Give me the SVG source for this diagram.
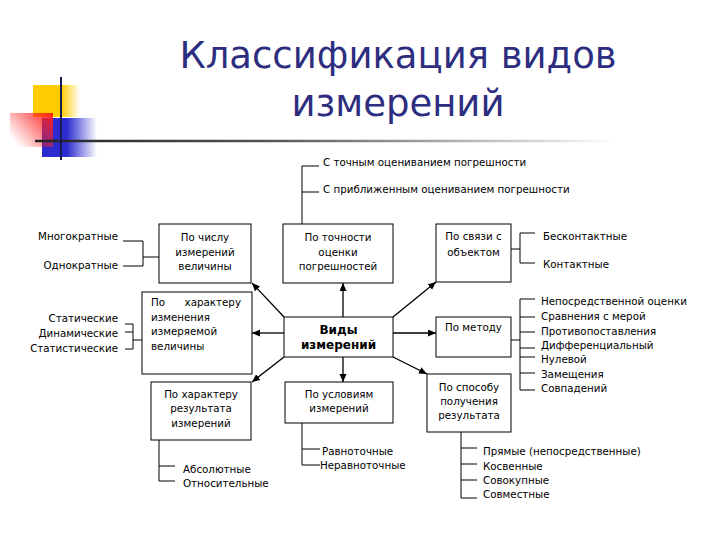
<svg xmlns="http://www.w3.org/2000/svg" width="720" height="540" viewBox="0 0 720 540">
<defs>
<linearGradient id="gY" x1="0" y1="0" x2="1" y2="0">
<stop offset="0" stop-color="#FFCC00"/><stop offset="0.6" stop-color="#FFCC00"/><stop offset="1" stop-color="#FFCC00" stop-opacity="0"/>
</linearGradient>
<linearGradient id="gR" x1="1" y1="0" x2="0" y2="0.7">
<stop offset="0" stop-color="#FF2020"/><stop offset="1" stop-color="#FF2020" stop-opacity="0"/>
</linearGradient>
<linearGradient id="gB" x1="0" y1="0" x2="1" y2="0">
<stop offset="0" stop-color="#2B2BD0"/><stop offset="0.45" stop-color="#2B2BD0"/><stop offset="1" stop-color="#2B2BD0" stop-opacity="0"/>
</linearGradient>
<linearGradient id="gL" x1="35" y1="0" x2="620" y2="0" gradientUnits="userSpaceOnUse">
<stop offset="0" stop-color="#222222"/><stop offset="0.4" stop-color="#555555"/><stop offset="1" stop-color="#555555" stop-opacity="0"/>
</linearGradient>
<marker id="arr" markerUnits="userSpaceOnUse" markerWidth="9" markerHeight="8" refX="8" refY="3.5" orient="auto">
<path d="M0,0 L8,3.5 L0,7 z" fill="#000"/>
</marker>
</defs>
<style>
.t{font-family:"DejaVu Sans",Verdana,sans-serif;font-size:10.3px;fill:#000}
.m{text-anchor:middle}
.e{text-anchor:end}
.b{font-weight:bold;font-size:12px}
.box{fill:#fff;stroke:#000;stroke-width:1}
.ln{stroke:#000;stroke-width:1;fill:none}
.ar{stroke:#000;stroke-width:1.3;fill:none;marker-end:url(#arr)}
.ttl{font-family:"DejaVu Sans",Verdana,sans-serif;font-size:37px;fill:#2E2E80;text-anchor:middle}
</style>
<rect width="720" height="540" fill="#fff"/>
<g id="logo">
<rect x="33" y="85" width="47" height="32" fill="url(#gY)"/>
<rect x="42" y="118" width="55" height="39" fill="url(#gB)"/>
<rect x="10" y="113" width="43" height="34" fill="url(#gR)"/>
<line x1="35" y1="141" x2="620" y2="141" stroke="url(#gL)" stroke-width="2.5"/>
<line x1="61" y1="77" x2="61" y2="160" stroke="#1A1A50" stroke-width="2"/>
</g>
<g id="title">
<text class="ttl" x="398" y="68">Классификация видов</text>
<text class="ttl" x="398" y="116">измерений</text>
</g>
<g id="connectors">
<line class="ar" x1="284" y1="317" x2="252" y2="283"/>
<line class="ar" x1="343" y1="317" x2="343" y2="283"/>
<line class="ar" x1="393" y1="317" x2="436" y2="282"/>
<line class="ar" x1="284" y1="333" x2="252" y2="333"/>
<line class="ar" x1="393" y1="333" x2="436" y2="333"/>
<line class="ar" x1="284" y1="357" x2="252" y2="382"/>
<line class="ar" x1="343" y1="357" x2="343" y2="382"/>
<line class="ar" x1="393" y1="357" x2="427" y2="374"/>
<path class="ln" d="M302,224 V166 H319 M302,192 H319"/>
<path class="ln" d="M511,249 H520 M535,233 H520 V263 H535"/>
<path class="ln" d="M511,340 H520 M535,299 H520 V390 H535 M520,317 H535 M520,332 H535 M520,348 H535 M520,357 H535 M520,373 H535"/>
<path class="ln" d="M461,432 V498 H477 M461,448 H477 M461,464 H477 M461,480 H477"/>
<path class="ln" d="M302,423 V465 H320 M302,449 H320"/>
<path class="ln" d="M159,440 V481 H175 M159,466 H175"/>
<path class="ln" d="M159,257 H143 M123,241 H143 V266 H123"/>
<path class="ln" d="M142,340 H133 M125,324 H133 V349 H125 M125,332 H133"/>
</g>
<g id="n-center">
<rect class="box" x="284" y="317" width="109" height="40"/>
<text class="t m b" x="338.5" y="334">Виды</text>
<text class="t m b" x="338.5" y="349">измерений</text>
</g>
<g id="n-chislo">
<rect class="box" x="159" y="224" width="92" height="59"/>
<text class="t m" x="205" y="241">По числу</text>
<text class="t m" x="205" y="255.5">измерений</text>
<text class="t m" x="205" y="270">величины</text>
</g>
<g id="n-tochnost">
<rect class="box" x="283" y="224" width="110" height="59"/>
<text class="t m" x="338" y="241">По точности</text>
<text class="t m" x="338" y="255.5">оценки</text>
<text class="t m" x="338" y="270">погрешностей</text>
</g>
<g id="n-svyaz">
<rect class="box" x="436" y="224" width="75" height="58"/>
<text class="t m" x="473.5" y="240">По связи с</text>
<text class="t m" x="473.5" y="256">объектом</text>
</g>
<g id="n-izmen">
<rect class="box" x="142" y="292" width="110" height="82"/>
<text class="t" x="151" y="306">По</text>
<text class="t e" x="241" y="306">характеру</text>
<text class="t" x="151" y="320.5">изменения</text>
<text class="t" x="151" y="335">измеряемой</text>
<text class="t" x="151" y="349.5">величины</text>
</g>
<g id="n-metod">
<rect class="box" x="436" y="317" width="75" height="40"/>
<text class="t m" x="473.5" y="331">По методу</text>
</g>
<g id="n-sposob">
<rect class="box" x="427" y="374" width="84" height="58"/>
<text class="t m" x="469" y="391">По способу</text>
<text class="t m" x="469" y="405">получения</text>
<text class="t m" x="469" y="419">результата</text>
</g>
<g id="n-rezult">
<rect class="box" x="151" y="382" width="100" height="58"/>
<text class="t m" x="201" y="398">По характеру</text>
<text class="t m" x="201" y="412">результата</text>
<text class="t m" x="201" y="427">измерений</text>
</g>
<g id="n-uslov">
<rect class="box" x="285" y="382" width="108" height="41"/>
<text class="t m" x="339" y="398">По условиям</text>
<text class="t m" x="339" y="412">измерений</text>
</g>
<g id="labels">
<text class="t" x="323" y="166">С точным оцениванием погрешности</text>
<text class="t" x="323" y="193">С приближенным оцениванием погрешности</text>
<text class="t" x="543" y="240">Бесконтактные</text>
<text class="t" x="543" y="268">Контактные</text>
<text class="t" x="541" y="305">Непосредственной оценки</text>
<text class="t" x="541" y="320">Сравнения с мерой</text>
<text class="t" x="541" y="335">Противопоставления</text>
<text class="t" x="541" y="349">Дифференциальный</text>
<text class="t" x="541" y="363">Нулевой</text>
<text class="t" x="541" y="378">Замещения</text>
<text class="t" x="541" y="392">Совпадений</text>
<text class="t" x="483" y="455">Прямые (непосредственные)</text>
<text class="t" x="483" y="470">Косвенные</text>
<text class="t" x="483" y="484">Совокупные</text>
<text class="t" x="483" y="498">Совместные</text>
<text class="t" x="322" y="455">Равноточные</text>
<text class="t" x="320" y="469">Неравноточные</text>
<text class="t" x="183" y="473">Абсолютные</text>
<text class="t" x="183" y="487">Относительные</text>
<text class="t e" x="118" y="240">Многократные</text>
<text class="t e" x="118" y="269">Однократные</text>
<text class="t e" x="118" y="322">Статические</text>
<text class="t e" x="118" y="337">Динамические</text>
<text class="t e" x="118" y="352">Статистические</text>
</g>
</svg>
